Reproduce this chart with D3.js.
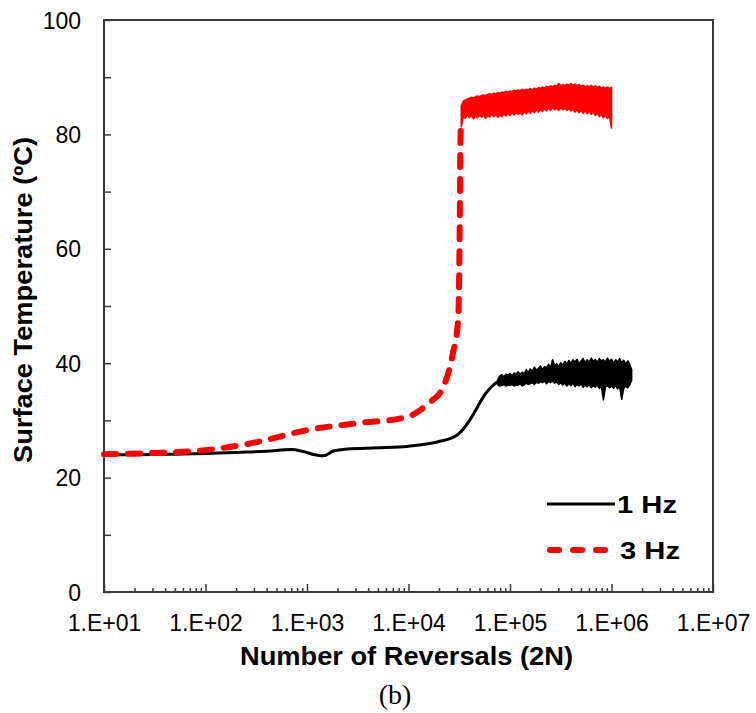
<!DOCTYPE html>
<html>
<head>
<meta charset="utf-8">
<script src="https://cdn.jsdelivr.net/npm/d3@7"></script>
<style>
  body { margin: 0; background: #fff; }
  svg text { font-family: "Liberation Sans", Arial, sans-serif; fill: #000; }
</style>
</head>
<body>
<script>
// 1 Hz test: reversals (2N) and surface temperature (ºC), smooth part
const reversals1Hz = [10, 20, 50, 100, 200, 400, 700, 900, 1200, 1450, 1800, 2500, 5000, 10000, 20000, 30000,
    40000, 48000, 55000, 65000, 75900];
const temp1Hz = [24.0, 24.0, 24.1, 24.2, 24.4, 24.6, 24.9, 24.6, 24.0, 23.8, 24.6, 25.0, 25.2, 25.5, 26.3, 27.4,
    30.0, 32.4, 34.2, 35.8, 36.8];

// 1 Hz noisy plateau: upper and lower envelope of the scatter
const band1HzReversals = [7.59e4, 7.94e4, 8.32e4, 8.71e4, 9.12e4, 9.55e4, 1.00e5, 1.05e5, 1.10e5, 1.15e5, 1.20e5,
    1.26e5, 1.32e5, 1.38e5, 1.45e5, 1.51e5, 1.58e5, 1.66e5, 1.74e5, 1.82e5, 1.91e5, 2.00e5, 2.09e5, 2.19e5, 2.29e5,
    2.40e5, 2.51e5, 2.63e5, 2.75e5, 2.88e5, 3.02e5, 3.16e5, 3.31e5, 3.47e5, 3.63e5, 3.80e5, 3.98e5, 4.17e5, 4.37e5,
    4.57e5, 4.79e5, 5.01e5, 5.25e5, 5.50e5, 5.75e5, 6.03e5, 6.31e5, 6.61e5, 6.92e5, 7.24e5, 7.59e5, 7.94e5, 8.32e5,
    8.71e5, 9.12e5, 9.55e5, 1.00e6, 1.05e6, 1.10e6, 1.15e6, 1.20e6, 1.26e6, 1.32e6, 1.38e6, 1.45e6, 1.51e6, 1.58e6];
const band1HzUpper = [37.2, 37.8, 38.0, 37.6, 38.1, 37.9, 38.2, 37.8, 38.3, 38.0, 38.5,
    38.1, 38.4, 38.2, 38.9, 38.3, 39.0, 38.6, 39.3, 38.8, 39.1, 39.5, 38.9, 39.4, 39.2,
    39.8, 39.3, 40.6, 39.6, 39.9, 39.4, 40.1, 39.7, 40.3, 39.8, 40.5, 40.0, 40.6, 40.2,
    40.7, 39.9, 40.4, 40.8, 40.1, 40.6, 40.2, 40.9, 40.3, 40.7, 40.1, 40.8, 40.4, 40.6,
    40.2, 40.9, 40.3, 40.7, 40.0, 40.6, 40.2, 40.8, 40.1, 40.5, 39.9, 40.4, 39.8, 38.9];
const band1HzLower = [36.2, 36.0, 36.1, 36.3, 36.0, 36.2, 36.1, 36.3, 36.0, 36.2, 36.1,
    36.4, 36.0, 36.2, 36.5, 36.3, 36.4, 36.6, 36.3, 36.7, 36.5, 36.8, 36.6, 36.9, 36.4,
    36.8, 36.6, 36.9, 36.5, 36.7, 36.3, 36.6, 36.2, 36.5, 36.0, 36.4, 36.1, 36.5, 35.9,
    36.3, 36.0, 36.4, 35.8, 36.2, 35.9, 36.3, 35.7, 36.1, 35.8, 36.2, 35.6, 36.0, 33.6,
    35.8, 36.1, 35.7, 36.0, 35.6, 36.1, 35.5, 36.0, 33.7, 35.6, 36.0, 35.7, 36.2, 37.0];

// 3 Hz test, smooth part
const reversals3Hz = [10, 30, 100, 320, 1000, 3100, 9800, 12300, 17400, 20400, 27400, 30800, 31600, 32100, 32400,
    33100];
const temp3Hz = [24.1, 24.3, 24.8, 26.2, 28.3, 29.5, 30.6, 31.5, 33.6, 34.8, 41.8, 47.5, 56.0, 68.0, 78.0, 82.5];

// 3 Hz noisy plateau
const band3HzReversals = [3.31e4, 3.47e4, 3.63e4, 3.80e4, 3.98e4, 4.17e4, 4.37e4, 4.57e4, 4.79e4, 5.01e4, 5.25e4,
    5.50e4, 5.75e4, 6.03e4, 6.31e4, 6.61e4, 6.92e4, 7.24e4, 7.59e4, 7.94e4, 8.32e4, 8.71e4, 9.12e4, 9.55e4, 1.00e5,
    1.05e5, 1.10e5, 1.15e5, 1.20e5, 1.26e5, 1.32e5, 1.38e5, 1.45e5, 1.51e5, 1.58e5, 1.66e5, 1.74e5, 1.82e5, 1.91e5,
    2.00e5, 2.09e5, 2.19e5, 2.29e5, 2.40e5, 2.51e5, 2.63e5, 2.75e5, 2.88e5, 3.02e5, 3.16e5, 3.31e5, 3.47e5, 3.63e5,
    3.80e5, 3.98e5, 4.17e5, 4.37e5, 4.57e5, 4.79e5, 5.01e5, 5.25e5, 5.50e5, 5.75e5, 6.03e5, 6.31e5, 6.61e5, 6.92e5,
    7.24e5, 7.59e5, 7.94e5, 8.32e5, 8.71e5, 9.12e5, 9.55e5, 1.00e6];
const band3HzUpper = [85.0, 85.8, 86.0, 86.2, 86.3, 86.5, 86.4, 86.6, 86.7, 86.6, 86.8,
    86.9, 86.8, 87.0, 87.1, 87.0, 87.2, 87.1, 87.3, 87.2, 87.4, 87.3, 87.5, 87.4, 87.6,
    87.5, 87.7, 87.6, 87.8, 87.6, 87.9, 87.7, 87.9, 87.8, 88.0, 87.8, 88.1, 87.9, 88.2,
    88.0, 88.3, 88.1, 88.4, 88.2, 88.5, 88.3, 88.6, 88.4, 88.9, 88.5, 88.7, 88.5, 88.8,
    88.6, 88.9, 88.6, 88.8, 88.5, 88.7, 88.4, 88.6, 88.3, 88.5, 88.3, 88.6, 88.2, 88.5,
    88.2, 88.4, 88.1, 88.3, 88.0, 88.3, 88.0, 88.2];
const band3HzLower = [81.3, 83.2, 82.8, 83.5, 82.9, 83.4, 82.7, 83.3, 82.9, 83.5, 83.0,
    83.4, 82.8, 83.3, 83.0, 83.6, 83.1, 83.5, 83.0, 83.4, 83.1, 83.6, 83.2, 83.7, 83.3,
    83.8, 83.4, 83.9, 83.5, 83.8, 83.4, 84.0, 83.6, 84.1, 83.7, 84.2, 83.8, 84.3, 83.9,
    84.4, 84.0, 84.5, 84.1, 84.6, 84.2, 84.7, 84.3, 84.6, 84.2, 84.7, 84.3, 84.6, 84.2,
    84.5, 84.1, 84.4, 83.9, 84.3, 83.8, 84.2, 83.7, 84.1, 83.6, 84.0, 83.5, 83.9, 83.3,
    83.7, 83.1, 83.5, 82.9, 83.4, 82.8, 83.2, 81.1];

const xTickValues = [1e1, 1e2, 1e3, 1e4, 1e5, 1e6, 1e7];
const xTickLabels = ['1.E+01', '1.E+02', '1.E+03', '1.E+04', '1.E+05', '1.E+06', '1.E+07'];
const yTickValues = [0, 20, 40, 60, 80, 100];
const seriesNames = ['1 Hz', '3 Hz'];

const margin = {top: 20, right: 43, bottom: 121, left: 104},
    width = 756 - margin.left - margin.right,
    height = 713 - margin.top - margin.bottom;

const x = d3.scaleLog().domain([1e1, 1e7]).range([0, width]),
    y = d3.scaleLinear().domain([0, 100]).range([height, 0]);

const svg = d3.select('body').append('svg')
    .attr('width', 756)
    .attr('height', 713);

const g = svg.append('g')
    .attr('transform', `translate(${margin.left}, ${margin.top})`);

const axisColor = '#3a3a3a';

// minor x ticks (2..9 in each decade)
const minorTicks = [];
xTickValues.slice(0, -1).forEach(d => {
    for (let k = 2; k <= 9; k++) minorTicks.push(d * k);
});

const xMinor = g.append('g')
    .attr('transform', `translate(0, ${height})`)
    .call(d3.axisBottom(x).tickValues(minorTicks).tickSize(-4).tickFormat(''));

const xMajor = g.append('g')
    .attr('transform', `translate(0, ${height})`)
    .call(d3.axisBottom(x).tickValues(xTickValues).tickSize(-8).tickSizeOuter(0).tickPadding(23)
        .tickFormat((d, i) => xTickLabels[i]));

const yAxis = g.append('g')
    .call(d3.axisLeft(y).tickValues(d3.range(0, 101, 10)).tickSize(-7).tickSizeOuter(0).tickPadding(23)
        .tickFormat(d => yTickValues.includes(d) ? d : ''));

[xMinor, xMajor, yAxis].forEach(a => {
    a.selectAll('.domain').remove();
    a.selectAll('line').attr('stroke', axisColor).attr('stroke-width', 1.5);
    a.selectAll('text').style('font-size', '23px').style('font-family', '"Liberation Sans", Arial, sans-serif')
        .attr('fill', '#111');
});
yAxis.selectAll('text').attr('dy', '0.35em');

// frame
g.append('rect')
    .attr('width', width)
    .attr('height', height)
    .attr('fill', 'none')
    .attr('stroke', axisColor)
    .attr('stroke-width', 2);

const line = d3.line()
    .curve(d3.curveMonotoneX)
    .x(d => x(d[0]))
    .y(d => y(d[1]));

const band = d3.area()
    .x(d => x(d[0]))
    .y0(d => y(d[2]))
    .y1(d => y(d[1]));

// 1 Hz
g.append('path')
    .datum(d3.zip(reversals1Hz, temp1Hz))
    .attr('fill', 'none')
    .attr('stroke', '#000')
    .attr('stroke-width', 3)
    .attr('stroke-linejoin', 'round')
    .attr('d', line);

g.append('path')
    .datum(d3.zip(band1HzReversals, band1HzUpper, band1HzLower))
    .attr('fill', '#000')
    .attr('stroke', '#000')
    .attr('stroke-width', 1.5)
    .attr('stroke-linejoin', 'round')
    .attr('d', band);

// 3 Hz
g.append('path')
    .datum(d3.zip(reversals3Hz, temp3Hz))
    .attr('fill', 'none')
    .attr('stroke', '#ff0000')
    .attr('stroke-width', 6)
    .attr('stroke-linecap', 'round')
    .attr('stroke-linejoin', 'round')
    .attr('stroke-dasharray', '12,12')
    .attr('d', line);

g.append('path')
    .datum(d3.zip(band3HzReversals, band3HzUpper, band3HzLower))
    .attr('fill', '#ff0000')
    .attr('stroke', '#ff0000')
    .attr('stroke-width', 1.5)
    .attr('stroke-linejoin', 'round')
    .attr('d', band);

// legend
const legend = svg.append('g').attr('class', 'legend');
legend.append('line')
    .attr('x1', 547).attr('x2', 615).attr('y1', 504).attr('y2', 504)
    .attr('stroke', '#000').attr('stroke-width', 3);
legend.append('line')
    .attr('x1', 550).attr('x2', 609).attr('y1', 550).attr('y2', 550)
    .attr('stroke', '#ff0000').attr('stroke-width', 6)
    .attr('stroke-linecap', 'round').attr('stroke-dasharray', '9,14');
legend.selectAll('text.name')
    .data(seriesNames)
    .enter().append('text')
    .attr('class', 'name')
    .attr('x', (d, i) => i ? 620 : 617)
    .attr('y', (d, i) => i ? 559 : 513)
    .attr('textLength', 60)
    .attr('lengthAdjust', 'spacingAndGlyphs')
    .style('font-size', '23px')
    .style('font-weight', 'bold')
    .text(d => d);

// axis titles
svg.append('text')
    .attr('x', 406.5)
    .attr('y', 665)
    .attr('text-anchor', 'middle')
    .attr('textLength', 333)
    .attr('lengthAdjust', 'spacingAndGlyphs')
    .style('font-size', '25px')
    .style('font-weight', 'bold')
    .text('Number of Reversals (2N)');

svg.append('text')
    .attr('transform', 'translate(32, 300) rotate(-90)')
    .attr('text-anchor', 'middle')
    .attr('textLength', 326)
    .attr('lengthAdjust', 'spacingAndGlyphs')
    .style('font-size', '25px')
    .style('font-weight', 'bold')
    .text('Surface Temperature (ºC)');

svg.append('text')
    .attr('x', 395)
    .attr('y', 704)
    .attr('text-anchor', 'middle')
    .style('font-family', '"Liberation Serif", "Times New Roman", serif')
    .style('font-size', '28px')
    .text('(b)');
</script>
</body>
</html>
